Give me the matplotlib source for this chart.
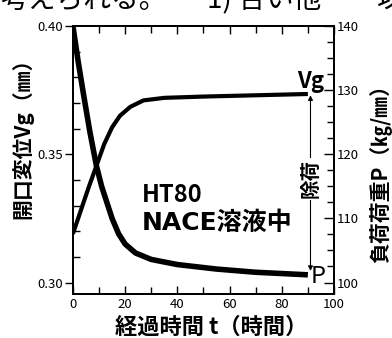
import numpy as np
import matplotlib
matplotlib.use("Agg")
import matplotlib.pyplot as plt
from matplotlib.ticker import MultipleLocator

plt.rcParams['font.family'] = ['Noto Sans CJK JP', 'DejaVu Sans']

# opening displacement Vg (mm), left axis
t_vg = [0, 3, 6, 9, 12, 15, 18, 22, 27, 35, 50, 70, 90]
vg = [0.319, 0.328, 0.337, 0.3455, 0.354, 0.3605, 0.365, 0.3685, 0.371,
      0.372, 0.3725, 0.373, 0.3735]

# load P (kg/mm), right axis
t_p = [0, 2, 4, 6.5, 9, 11, 13, 15, 17.5, 20, 24, 30, 40, 55, 70, 90]
p = [140, 134.5, 129.5, 123.5, 118.2, 115, 112.5, 110, 107.6, 106, 104.6,
     103.6, 102.8, 102.1, 101.6, 101.2]

x_ticks = [0, 20, 40, 60, 80, 100]
vg_ticks = [0.30, 0.35, 0.40]
p_ticks = [100, 110, 120, 130, 140]

VG_LIM = (0.2955, 0.40)
P_LIM = (98.2, 140)

fig = plt.figure(figsize=(3.92, 3.38), dpi=100)
ax = fig.add_axes([0.186, 0.130, 0.666, 0.793])
ax2 = ax.twinx()

ax.plot(t_vg, vg, color="black", lw=3.0, solid_capstyle="butt",
        solid_joinstyle="round")
ax2.plot(t_p, p, color="black", lw=4.0, solid_capstyle="butt",
         solid_joinstyle="round")

ax.set_xlim(0, 100)
ax.set_ylim(*VG_LIM)
ax2.set_ylim(*P_LIM)

ax.set_xticks(x_ticks)
ax.set_xticklabels([str(v) for v in x_ticks], fontsize=9.5)
ax.xaxis.set_minor_locator(MultipleLocator(10))
ax.tick_params(axis="x", which="both", direction="in", top=True, pad=3)
ax.tick_params(axis="x", which="major", length=6, width=1)
ax.tick_params(axis="x", which="minor", length=5, width=1)

ax.set_yticks(vg_ticks)
ax.set_yticklabels([f"{v:.2f}" for v in vg_ticks], fontsize=9.5)
ax.yaxis.set_minor_locator(MultipleLocator(0.01))
ax.tick_params(axis="y", which="major", direction="out", length=6, width=1, pad=1)
ax.tick_params(axis="y", which="minor", direction="in", length=5, width=1)

ax2.set_yticks(p_ticks)
ax2.set_yticklabels([str(v) for v in p_ticks], fontsize=9.5)
ax2.yaxis.set_minor_locator(MultipleLocator(2.5))
ax2.tick_params(axis="y", which="both", direction="in", width=1, pad=2)
ax2.tick_params(axis="y", which="major", length=7)
ax2.tick_params(axis="y", which="minor", length=5)

for a in (ax, ax2):
    for s in a.spines.values():
        s.set_linewidth(1.4)

ax.set_xlabel("経過時間 t（時間）", fontsize=16, fontweight="bold")
ax.xaxis.set_label_coords(0.53, -0.082)
ax.set_ylabel("開口変位Vg（㎜）", fontsize=15, fontweight="bold")
ax.yaxis.set_label_coords(-0.153, 0.60)
ax2.set_ylabel("負荷荷重P（㎏/㎜）", fontsize=15, fontweight="bold", rotation=90)
ax2.yaxis.set_label_coords(1.134, 0.47)

# unloading arrow between the two end values
t_end = t_vg[-1] + 1
p_end_vg = VG_LIM[0] + (p[-1] - P_LIM[0]) / (P_LIM[1] - P_LIM[0]) * (VG_LIM[1] - VG_LIM[0])
ax.annotate("", xy=(t_end, vg[-1] - 0.0005), xytext=(t_end, p_end_vg + 0.0015),
            arrowprops=dict(arrowstyle="<|-|>", color="black", lw=0.8,
                            mutation_scale=7, shrinkA=0, shrinkB=0))
ax.text(t_end, 0.3404, "除荷", rotation=90, ha="center", va="center",
        fontsize=14, fontweight="bold",
        bbox=dict(facecolor="white", edgecolor="none", pad=1))
ax.text(t_end, 0.3785, "Vg", ha="center", va="center", fontsize=16,
        fontweight="bold")
ax.text(t_end + 3, 0.3025, "P", ha="center", va="center", fontsize=17)

ax.text(0.265, 0.343, "HT80", transform=ax.transAxes, ha="left",
        va="baseline", fontsize=17, fontweight="bold")
ax.text(0.265, 0.239, "NACE溶液中", transform=ax.transAxes, ha="left",
        va="baseline", fontsize=18, fontweight="bold",
        family=["DejaVu Sans", "Noto Sans CJK JP"])

# fragment of the page text above the figure
fig.text(0.0, 1 - 8 / 338, "考えられる。", fontsize=20, ha="left", va="baseline")
fig.text(207 / 392, 1 - 8 / 338, "1) 合い他", fontsize=20, ha="left", va="baseline")
fig.text(377 / 392, 1 - 8 / 338, "以", fontsize=20, ha="left", va="baseline")

fig.savefig("out.png", dpi=100)
